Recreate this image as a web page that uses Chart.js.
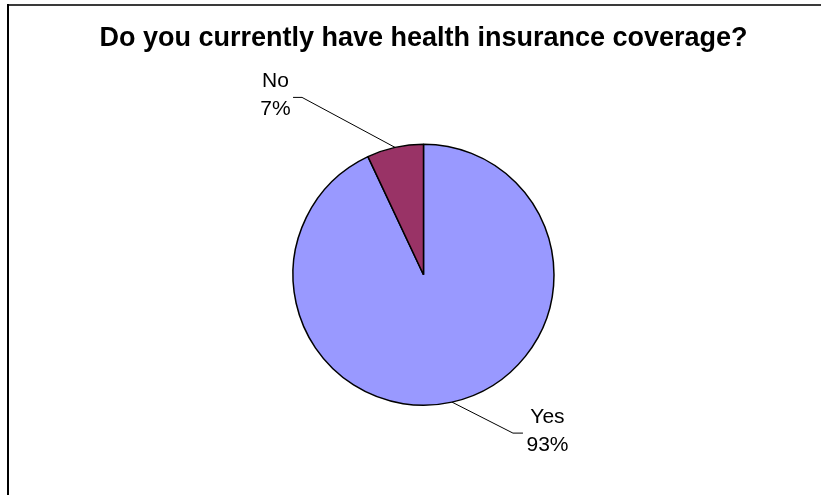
<!DOCTYPE html>
<html>
<head>
<meta charset="utf-8">
<script src="https://cdn.jsdelivr.net/npm/chart.js@4/dist/chart.umd.min.js"></script>
<style>
  html, body { margin: 0; padding: 0; background: #fff; }
  #wrap { width: 821px; height: 495px; position: relative; }
</style>
</head>
<body>
<div id="wrap"><canvas id="c" width="821" height="495"></canvas></div>
<script>
// ---- data ----
const chartTitle = 'Do you currently have health insurance coverage?';
const categories = ['Yes', 'No'];
const shares = [93, 7];
const sliceColors = ['#9999FF', '#993366'];

const FONT = '"Liberation Sans", Arial, Helvetica, sans-serif';

// label placement relative to the slice's mid-edge anchor (layout, not data)
const labelLayout = {
  'Yes': { elbow: [61, 31], end: [10, 0], text: [95.5, 15] },
  'No':  { elbow: [-93, -50], end: [-9, 0], text: [-119.5, -66.5] }
};

const decorPlugin = {
  id: 'decor',
  beforeDraw(chart) {
    const ctx = chart.ctx;
    ctx.save();
    ctx.fillStyle = '#fff';
    ctx.fillRect(0, 0, chart.width, chart.height);
    ctx.restore();
  },
  afterDraw(chart) {
    const ctx = chart.ctx;
    ctx.save();
    // frame (left and top edges visible)
    ctx.fillStyle = '#3a3a3a';
    ctx.fillRect(7, 4, chart.width - 7, 2);
    ctx.fillStyle = '#000';
    ctx.fillRect(7, 4, 2, chart.height - 4);

    const meta = chart.getDatasetMeta(0);
    meta.data.forEach((arc, i) => {
      const p = arc.getProps(['x', 'y', 'startAngle', 'endAngle', 'outerRadius'], true);
      const mid = (p.startAngle + p.endAngle) / 2;
      const ax = p.x + Math.cos(mid) * p.outerRadius;
      const ay = p.y + Math.sin(mid) * p.outerRadius;
      const L = labelLayout[categories[i]];
      const ex = ax + L.elbow[0], ey = ay + L.elbow[1];
      const fx = ex + L.end[0], fy = ey + L.end[1];
      ctx.strokeStyle = '#000';
      ctx.lineWidth = 1;
      ctx.beginPath();
      ctx.moveTo(ax, ay);
      ctx.lineTo(ex, ey);
      ctx.lineTo(fx, fy);
      ctx.stroke();

      const tx = ax + L.text[0], ty = ay + L.text[1];
      ctx.fillStyle = '#000';
      ctx.font = '21px ' + FONT;
      ctx.textAlign = 'center';
      ctx.textBaseline = 'middle';
      ctx.fillText(categories[i], tx, ty);
      ctx.fillText(shares[i] + '%', tx, ty + 28.5);
    });
    ctx.restore();
  }
};

new Chart(document.getElementById('c'), {
  type: 'pie',
  data: {
    labels: categories,
    datasets: [{
      data: shares,
      backgroundColor: sliceColors,
      borderColor: '#000',
      borderWidth: 1.5,
      radius: 130.5
    }]
  },
  options: {
    responsive: false,
    animation: false,
    events: [],
    layout: { padding: { left: 26, right: 0, top: 0, bottom: 0 } },
    plugins: {
      legend: { display: false },
      tooltip: { enabled: false },
      title: {
        display: true,
        text: chartTitle,
        color: '#000',
        font: { family: FONT, size: 27, weight: 'bold', lineHeight: 1.2 },
        padding: { top: 22.1, bottom: 0 }
      }
    }
  },
  plugins: [decorPlugin]
});
</script>
</body>
</html>
